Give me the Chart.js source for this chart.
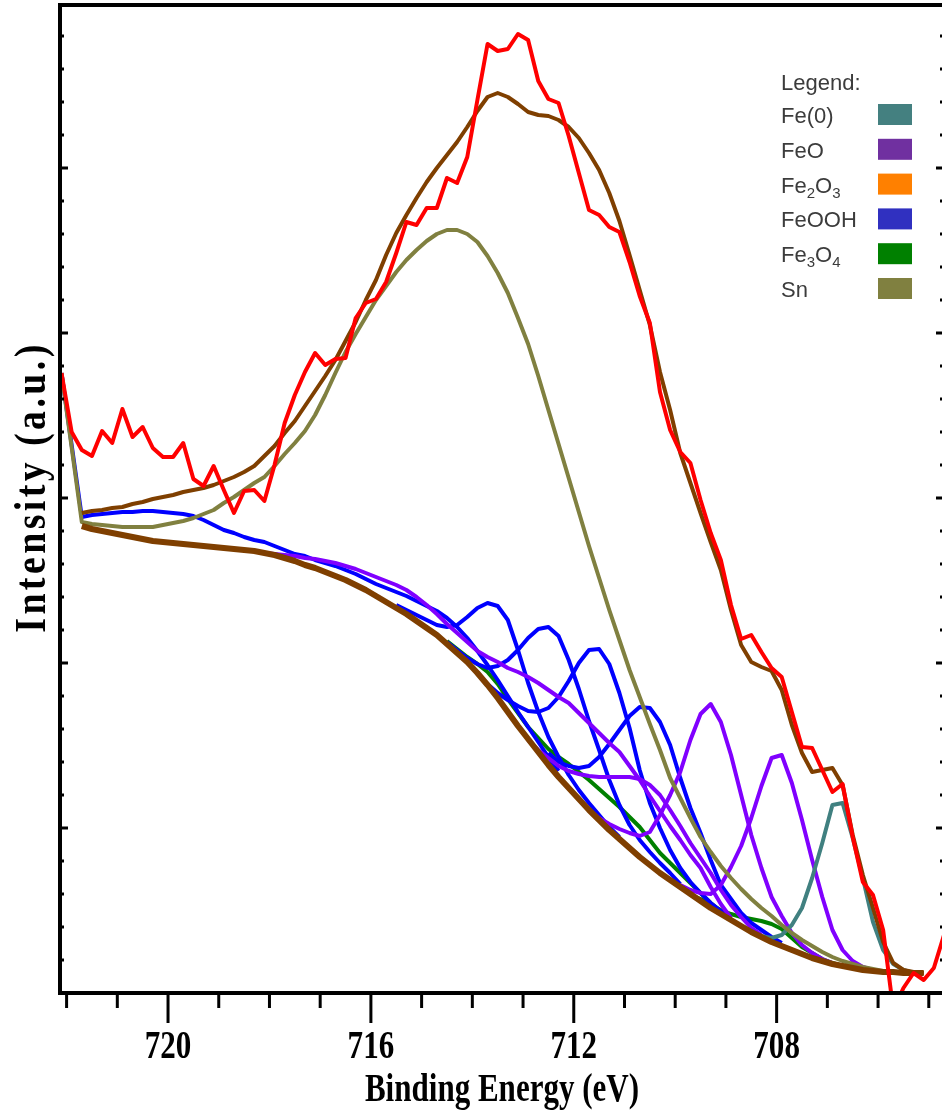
<!DOCTYPE html>
<html>
<head>
<meta charset="utf-8">
<script src="https://cdn.jsdelivr.net/npm/chart.js@4/dist/chart.umd.min.js"></script>
<style>
  html, body { margin: 0; padding: 0; background: #fff; overflow: hidden; }
  #wrap { position: absolute; left: 0; top: 0; width: 948px; height: 1117px; }
</style>
</head>
<body>
<div id="wrap"><canvas id="xps" width="948" height="1117"></canvas></div>
<script>
// binding energy grid (eV), 0.2 eV steps
const energy = [
  722.1,721.9,721.7,721.5,721.3,721.1,720.9,720.7,720.5,720.3,
  720.1,719.9,719.7,719.5,719.3,719.1,718.9,718.7,718.5,718.3,
  718.1,717.9,717.7,717.5,717.3,717.1,716.9,716.7,716.5,716.3,
  716.1,715.9,715.7,715.5,715.3,715.1,714.9,714.7,714.5,714.3,
  714.1,713.9,713.7,713.5,713.3,713.1,712.9,712.7,712.5,712.3,
  712.1,711.9,711.7,711.5,711.3,711.1,710.9,710.7,710.5,710.3,
  710.1,709.9,709.7,709.5,709.3,709.1,708.9,708.7,708.5,708.3,
  708.1,707.9,707.7,707.5,707.3,707.1,706.9,706.7,706.5,706.3,
  706.1,705.9,705.7,705.5,705.3,705.1,704.9,704.7
];

// measured spectrum (a.u.)
const measured = [
  627,568,550,544,569,557,591,563,573,552,
  543,543,557,521,514,534,510,487,509,510,
  499,535,577,605,628,647,635,641,642,682,
  697,701,718,747,778,775,792,792,822,817,
  843,900,956,949,951,966,960,919,901,897,
  864,827,790,785,773,768,738,704,677,608,
  570,548,537,500,467,440,395,361,365,348,
  332,323,288,253,252,230,208,216,163,118,
  105,70,-10,12,27,20,32,65
];

// fitted envelope, from index 2
const envelope = [
  487,489,490,492,493,496,498,501,503,505,
  508,510,512,515,519,523,528,534,544,554,
  567,579,594,609,624,640,659,678,700,720,
  745,767,785,802,818,832,845,858,873,889,
  903,907,903,896,888,885,884,880,873,862,
  847,830,807,779,745,710,675,628,590,547,
  517,487,458,430,390,355,338,333,329,310,
  275,247,228,230,232,215,165,125,92,58,
  37,30,28,27
];

// background, from index 2
const background = [
  474,471,469,467,465,463,461,459,458,457,
  456,455,454,453,452,451,450,449,447,445,
  442,439,435,432,428,424,420,415,410,404,
  398,392,386,379,372,365,356,347,338,327,
  315,302,288,274,261,248,235,223,212,201,
  190,180,170,161,152,143,135,127,120,113,
  106,99,92,86,80,74,68,63,58,54,
  50,46,42,39,36,34,32,30,29,28,
  28,27,27,27
];

// components (each one sits on the background)
const sn = [
  627,null,
  478,476,475,474,473,473,473,473,475,477,
  479,482,486,490,497,503,510,517,523,534,
  546,557,569,585,605,627,648,666,683,700,
  714,728,740,750,759,766,770,770,766,758,
  744,727,707,682,656,624,590,556,522,488,
  454,422,390,360,330,303,276,250,222,202,
  182,163,148,134,122,111,101,92,84,75,
  67,60,54,48,43,39,36,33,31,29,
  28,28,27,27
];
const feoohSat = [
  627,null,
  483,485,486,487,488,488,489,489,488,487,
  486,484,480,475,470,467,463,460,458,454,
  450,446,444,440,437,434,430,426,421,416,
  412,408,404,399,394,389,382,373,362,349,
  335,320,304,288,273,258,243,229
];
const feoohA = [395,390,385,380,375,373,375,383,392,397,394,380,350,317,288,263,243,225,210,197,185,173,163]; // from 33
const feoohB = [358,350,342,336,332,334,340,350,362,371,373,364,340,311,279,250,220,195,175,160,148,137,127,116]; // from 38
const feoohC = [316,307,300,294,289,288,292,303,319,337,350,351,336,307,272,230,197,172,150,132,118,107,97,89,82]; // from 42
const feoohD = [247,238,234,232,234,243,256,270,284,293,292,278,255,222,192,167,140,115,101,87,77,70,63,57]; // from 48
const feoSat = [
  447,446,445,444,442,441,439,437,434,431,
  427,423,419,415,410,403,395,386,376,367,
  358,349,343,338,332,328,323,317,310,303,
  297,287,277,267,257,248,234,220,204,189,
  174,160,145,132,113,96,82
]; // from 20
const feoFlat = [260,250,242,234,229,226,224,223,223,223,223,221,215,205,190,174,157,142,127,110,95,83,72,65]; // from 46
const feoA = [190,182,176,171,167,164,168,185,205,228,260,286,296,278,245,205,165,132,103,84,67,55,47,41,37]; // from 52
const feoB = [115,110,107,106,115,133,154,182,214,242,245,217,180,140,103,70,50,39,33,30]; // from 61
const fe0 = [68,64,62,65,75,92,122,157,195,197,162,122,78,50,36,30,27]; // from 68
const fe3o4A = [359,351,343,336,328,316,301,287,273,262,251,243,236,228,220,211,202,193,183,173,160,147,137,127,117,107,97,89,82]; // from 38
const fe3o4B = [105,101,95,90,86,83,81,79,76,71,62,53,47,41,37,34]; // from 62

const xTicks = [705,706,707,708,709,710,711,712,713,714,715,716,717,718,719,720,721,722];
const xLabels = [708, 712, 716, 720];

const legendNames = [['Fe(0)'], ['FeO'], ['Fe', '2', 'O', '3'], ['FeOOH'], ['Fe', '3', 'O', '4'], ['Sn']];
const legendColors = ['#448080', '#7030a0', '#ff8000', '#3030c0', '#008000', '#808040'];

// put values onto the energy grid starting at a given index
function place(start, vals) {
  return energy.map((e, i) => {
    const v = vals[i - start];
    return {x: e, y: (i >= start && v !== undefined) ? v : null};
  });
}

function line(label, start, vals, color, width, gaps) {
  return {
    label: label,
    data: place(start, vals),
    borderColor: color,
    backgroundColor: color,
    borderWidth: width,
    pointRadius: 0,
    tension: 0,
    spanGaps: !!gaps,
    borderJoinStyle: 'round',
    fill: false
  };
}

const frame = {
  id: 'frame',
  afterDraw(chart) {
    const {ctx, chartArea: a, scales: {x, y}} = chart;
    ctx.save();
    ctx.strokeStyle = '#000';
    ctx.fillStyle = '#000';
    ctx.lineCap = 'butt';

    // box
    ctx.lineWidth = 4;
    ctx.beginPath();
    ctx.moveTo(a.left, a.top); ctx.lineTo(a.right, a.top);
    ctx.moveTo(a.left, a.bottom); ctx.lineTo(a.right, a.bottom);
    ctx.stroke();
    ctx.beginPath();
    ctx.moveTo(a.left, a.top - 2); ctx.lineTo(a.left, a.bottom + 2);
    ctx.moveTo(a.right, a.top - 2); ctx.lineTo(a.right, a.bottom + 2);
    ctx.stroke();

    // bottom ticks
    ctx.lineWidth = 3;
    xTicks.forEach(e => {
      const px = x.getPixelForValue(e);
      const len = e % 4 === 0 ? 30 : 15;
      ctx.beginPath();
      ctx.moveTo(px, a.bottom);
      ctx.lineTo(px, a.bottom + len);
      ctx.stroke();
    });

    // left / right ticks (inward)
    for (let k = 0; k <= 30; k++) {
      const v = y.min + 33 * k;
      if (v > y.max) break;
      const py = y.getPixelForValue(v);
      const len = k % 5 === 0 ? 8 : 4;
      ctx.beginPath();
      ctx.moveTo(a.left, py); ctx.lineTo(a.left + len, py);
      ctx.moveTo(a.right, py); ctx.lineTo(a.right - len, py);
      ctx.stroke();
    }

    // tick labels (condensed bold serif)
    ctx.font = 'bold 41px "Liberation Serif", "Times New Roman", serif';
    ctx.textAlign = 'center';
    ctx.textBaseline = 'alphabetic';
    xLabels.forEach(e => {
      ctx.save();
      ctx.translate(x.getPixelForValue(e), 1058);
      ctx.scale(0.757, 1);
      ctx.fillText(String(e), 0, 0);
      ctx.restore();
    });

    // x title
    ctx.save();
    ctx.translate((a.left + a.right) / 2, 1101);
    ctx.scale(0.757, 1);
    ctx.fillText('Binding Energy (eV)', 0, 0);
    ctx.restore();

    // y title, spaced letters
    ctx.save();
    ctx.font = 'bold 44px "Liberation Serif", "Times New Roman", serif';
    ctx.letterSpacing = '4px';
    ctx.translate(45, 487);
    ctx.rotate(-Math.PI / 2);
    ctx.scale(0.86, 1);
    ctx.fillText('Intensity (a.u.)', 0, 0);
    ctx.restore();

    // legend
    ctx.textAlign = 'left';
    ctx.textBaseline = 'alphabetic';
    ctx.font = '22px "Liberation Sans", Arial, sans-serif';
    ctx.fillStyle = '#3c3c3c';
    ctx.fillText('Legend:', 781, 90);
    legendNames.forEach((parts, i) => {
      const top = 104 + i * 34.8;
      ctx.fillStyle = legendColors[i];
      ctx.fillRect(878, top, 34, 21);
      ctx.fillStyle = '#3c3c3c';
      let tx = 781;
      const base = top + 19;
      parts.forEach((p, j) => {
        const sub = j % 2 === 1;
        ctx.font = (sub ? '15px' : '22px') + ' "Liberation Sans", Arial, sans-serif';
        ctx.fillText(p, tx, sub ? base + 5 : base);
        tx += ctx.measureText(p).width;
      });
    });
    ctx.restore();
  }
};

const blue = '#0000ff', violet = '#8000ff', green = '#008000';

new Chart(document.getElementById('xps'), {
  type: 'line',
  data: {
    datasets: [
      line('Measured', 0, measured, '#ff0000', 4),
      line('Envelope', 2, envelope, '#7f3f00', 4),
      line('Background', 2, background, '#7f3f00', 6),
      line('Sn', 0, sn, '#808040', 4, true),
      line('Fe(0)', 68, fe0, '#408080', 4),
      line('FeO sat', 20, feoSat, violet, 4),
      line('FeO flat', 46, feoFlat, violet, 4),
      line('FeO A', 52, feoA, violet, 4),
      line('FeO B', 61, feoB, violet, 4),
      line('FeOOH sat', 0, feoohSat, blue, 4, true),
      line('FeOOH A', 33, feoohA, blue, 4),
      line('FeOOH B', 38, feoohB, blue, 4),
      line('FeOOH C', 42, feoohC, blue, 4),
      line('FeOOH D', 48, feoohD, blue, 4),
      line('Fe3O4 A', 38, fe3o4A, green, 4),
      line('Fe3O4 B', 62, fe3o4B, green, 4)
    ]
  },
  options: {
    responsive: false,
    animation: false,
    devicePixelRatio: 1,
    layout: { padding: { left: 60, top: 5, right: 4, bottom: 124 } },
    scales: {
      x: { type: 'linear', reverse: true, min: 704.70, max: 722.13, display: false },
      y: { type: 'linear', min: 7, max: 995, display: false }
    },
    plugins: {
      legend: { display: false },
      tooltip: { enabled: false }
    }
  },
  plugins: [frame]
});
</script>
</body>
</html>
